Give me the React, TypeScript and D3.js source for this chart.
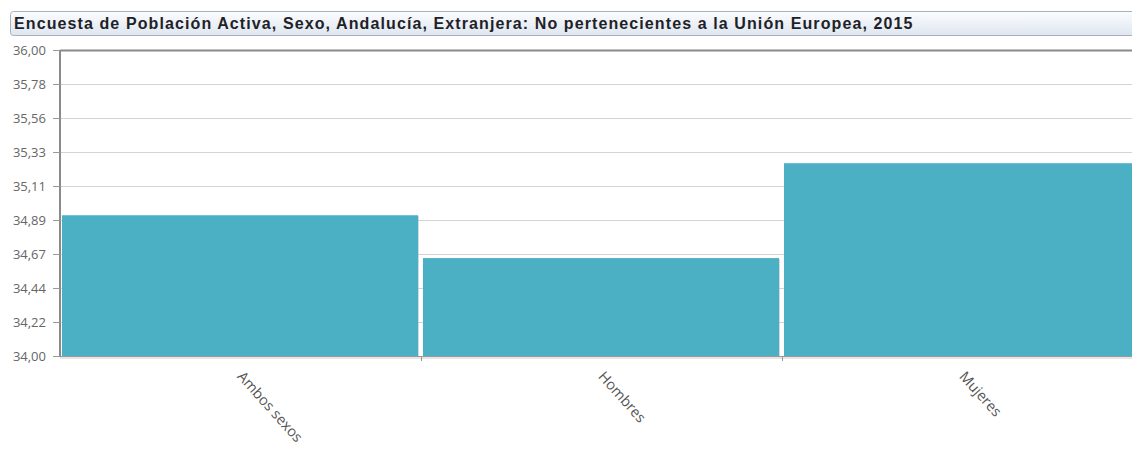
import { useEffect, useRef } from 'react';
import * as d3 from 'd3';

const title = 'Encuesta de Población Activa, Sexo, Andalucía, Extranjera: No pertenecientes a la Unión Europea, 2015';
const categories = ['Ambos sexos', 'Hombres', 'Mujeres'];
const values = [34.92, 34.64, 35.26];
const yMin = 34;
const yMax = 36;
const tickCount = 10;

const App = () => {
    const graphRef = useRef<SVGSVGElement | null>(null);

    useEffect(() => {
        const svg = d3.select(graphRef.current);
        svg.selectAll('*').remove();

        const margin = { top: 50, left: 60, bottom: 99 };
        const width = 1083;
        const height = 455 - margin.top - margin.bottom;

        const defs = svg.append('defs');
        const grad = defs.append('linearGradient').attr('id', 'titleGrad').attr('x1', 0).attr('y1', 0).attr('x2', 0).attr('y2', 1);
        grad.append('stop').attr('offset', '0%').attr('stop-color', '#fbfcfe');
        grad.append('stop').attr('offset', '100%').attr('stop-color', '#dfe6f0');

        // title bar
        svg.append('rect')
            .attr('x', 10.5).attr('y', 11.5)
            .attr('width', 1140).attr('height', 24)
            .attr('rx', 3)
            .attr('fill', 'url(#titleGrad)')
            .attr('stroke', '#a9b0ba');
        svg.append('text')
            .attr('x', 14).attr('y', 29)
            .attr('font-family', 'Liberation Sans, Arial, sans-serif')
            .attr('font-weight', 'bold')
            .attr('font-size', '16px')
            .attr('letter-spacing', '1.1px')
            .attr('fill', '#1e2228')
            .text(title);

        const g = svg.append('g').attr('transform', `translate(${margin.left},${margin.top})`);

        const x = d3.scaleBand().domain(categories).range([0, width]).paddingInner(0).paddingOuter(0);
        const y = d3.scaleLinear().domain([yMin, yMax]).range([height, 0]);
        const ticks = d3.range(tickCount).map(i => yMin + (i * (yMax - yMin)) / (tickCount - 1));
        const fmt = (v: number) => v.toFixed(2).replace('.', ',');

        // grid
        g.selectAll('.grid')
            .data(ticks)
            .enter()
            .append('line')
            .attr('x1', 0).attr('x2', width)
            .attr('y1', d => Math.round(y(d)) + 0.5)
            .attr('y2', d => Math.round(y(d)) + 0.5)
            .attr('stroke', '#d4d4d4');

        // bars
        g.selectAll('.bar-shadow')
            .data(values)
            .enter()
            .append('rect')
            .attr('x', (_d, i) => (x(categories[i]) as number) + 3)
            .attr('y', d => y(d) + 1)
            .attr('width', x.bandwidth() - 5)
            .attr('height', d => height - y(d) + 1)
            .attr('fill', '#9fb9bf')
            .attr('opacity', 0.5);
        g.selectAll('.bar')
            .data(values)
            .enter()
            .append('rect')
            .attr('class', 'bar')
            .attr('x', (_d, i) => (x(categories[i]) as number) + 2)
            .attr('y', d => y(d))
            .attr('width', x.bandwidth() - 5)
            .attr('height', d => height - y(d))
            .attr('fill', '#4bb0c4');

        // frame lines
        g.append('line').attr('x1', 0).attr('x2', width).attr('y1', 0.5).attr('y2', 0.5).attr('stroke', '#8a8a8a').attr('stroke-width', 2);
        g.append('line').attr('x1', 0).attr('x2', width).attr('y1', height + 0.5).attr('y2', height + 0.5).attr('stroke', '#9a9a9a');
        g.append('line').attr('x1', 0).attr('x2', width).attr('y1', height + 2).attr('y2', height + 2).attr('stroke', '#e6e6e6').attr('stroke-width', 2);
        g.append('line').attr('x1', 0).attr('x2', 0).attr('y1', 0).attr('y2', height + 1).attr('stroke', '#8a8a8a').attr('stroke-width', 2);

        // y axis
        const yAxis = g.append('g')
            .call(d3.axisLeft(y).tickValues(ticks).tickFormat(d => fmt(d as number)).tickSize(7).tickPadding(7));
        yAxis.select('.domain').remove();
        yAxis.selectAll('line').attr('stroke', '#999');
        yAxis.selectAll('text')
            .attr('fill', '#666')
            .attr('font-size', '13px')
            .attr('font-family', 'Open Sans, DejaVu Sans, sans-serif');

        // x axis
        const xAxis = g.append('g')
            .attr('transform', `translate(0,${height + 1})`)
            .call(d3.axisBottom(x).tickSize(0).tickPadding(0));
        xAxis.select('.domain').remove();
        xAxis.selectAll('text')
            .attr('transform', 'translate(-4,20) rotate(48)')
            .attr('dy', '0')
            .attr('y', 0)
            .style('text-anchor', 'start')
            .attr('fill', '#555')
            .attr('font-size', '14.5px')
            .attr('font-family', 'Open Sans, DejaVu Sans, sans-serif');

        g.selectAll('.xtick')
            .data(categories.slice(1))
            .enter()
            .append('line')
            .attr('x1', d => Math.round(x(d) as number) + 0.5)
            .attr('x2', d => Math.round(x(d) as number) + 0.5)
            .attr('y1', height)
            .attr('y2', height + 5)
            .attr('stroke', '#999');
    }, []);

    return (
        <svg ref={graphRef} width={1132} height={455} style={{ position: 'absolute', left: 0, top: 0, background: '#fff' }} />
    );
};

export default App;
